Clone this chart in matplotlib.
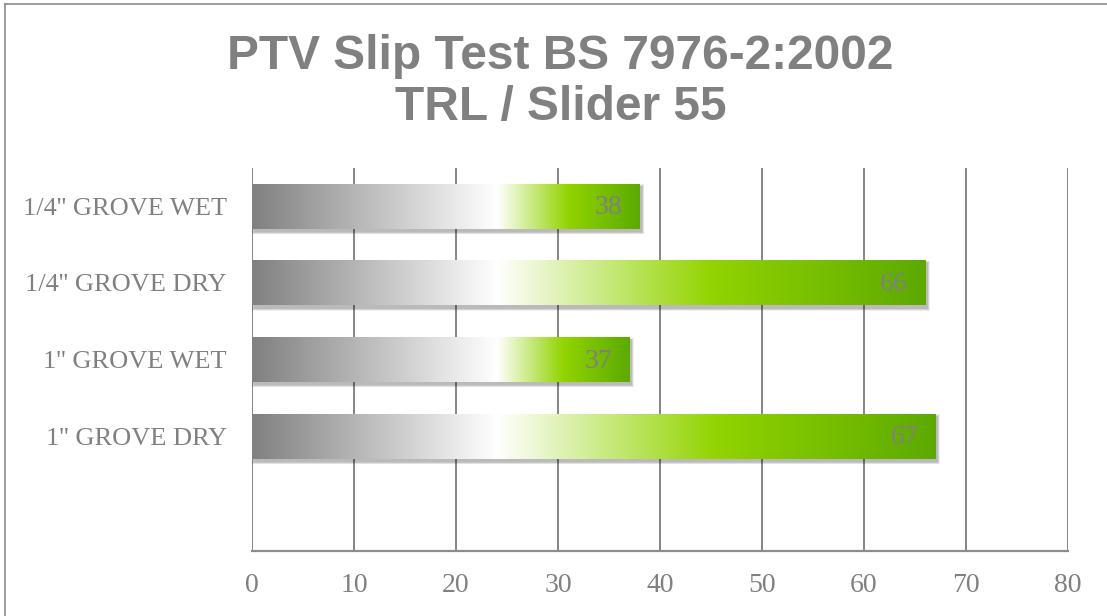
import numpy as np
import matplotlib.pyplot as plt
from matplotlib.patches import Rectangle
from matplotlib.lines import Line2D

# data
categories = ["1/4'' GROVE WET", "1/4'' GROVE DRY", "1'' GROVE WET", "1'' GROVE DRY"]
ptv_values = [38, 66, 37, 67]
x_ticks = [0, 10, 20, 30, 40, 50, 60, 70, 80]
title_line1 = 'PTV Slip Test BS 7976-2:2002'
title_line2 = 'TRL / Slider 55'

GRAY = '#808080'
W, H = 1107, 616


def bar_colors(length, n=600):
    """gray -> white -> light green -> dark green, like the office gradient fill"""
    x = np.linspace(0, length, n)
    white_at = 24
    green_at = (white_at + length) / 2
    stops = [0, white_at, green_at, length]
    cols = np.array([[128, 128, 128], [255, 255, 255], [146, 212, 0], [92, 170, 0]]) / 255
    rgb = np.stack([np.interp(x, stops, cols[:, c]) for c in range(3)], axis=-1)
    return rgb[np.newaxis, :, :]


fig = plt.figure(figsize=(W / 100, H / 100), dpi=100)
fig.patch.set_facecolor('white')

# outer chart border (cut off at right and bottom)
fig.add_artist(Line2D([5 / W, 5 / W], [0, 1 - 4 / H], color='#8c8c8c', lw=1.2))
fig.add_artist(Line2D([5 / W, 1], [1 - 4 / H, 1 - 4 / H], color='#8c8c8c', lw=1.2))

fig.text(560 / W, 1 - 69 / H, title_line1, ha='center', va='baseline',
         fontsize=34.5, fontweight='bold', color=GRAY, family='Liberation Sans')
fig.text(561 / W, 1 - 120 / H, title_line2, ha='center', va='baseline',
         fontsize=34.5, fontweight='bold', color=GRAY, family='Liberation Sans')

ax = fig.add_axes([252 / W, 65 / H, 816 / W, 383 / H])
ax.set_facecolor('white')

for t in x_ticks:
    ax.axvline(t, color='#858585', lw=1.4, zorder=1)

bar_h = 0.587
px_x = 80 / 816
px_y = 5 / 383
for i, v in enumerate(ptv_values):
    # soft shadow
    for k in range(1, 6):
        ax.add_patch(Rectangle((-k * px_x * 0.5 + 2 * px_x, i - bar_h / 2 + 3 * px_y - k * px_y * 0.5),
                               v + k * px_x, bar_h + k * px_y,
                               facecolor='black', edgecolor='none', alpha=0.06, zorder=2))
    ax.imshow(bar_colors(v), extent=(0, v, i + bar_h / 2, i - bar_h / 2),
              aspect='auto', interpolation='bilinear', zorder=3)
    ax.text(v - 1.7, i + 0.02, str(v), ha='right', va='center', color=GRAY,
            fontsize=20, family='Liberation Serif', zorder=4)

ax.set_xlim(0, 80)
ax.set_ylim(4.5, -0.5)
ax.set_xticks(x_ticks)
ax.set_xticklabels([str(t) for t in x_ticks], family='Liberation Serif', fontsize=20, color=GRAY)
ax.set_yticks(range(len(categories)))
ax.set_yticklabels(categories, family='Liberation Serif', fontsize=19, color=GRAY)
ax.tick_params(axis='x', length=0, pad=16)
ax.tick_params(axis='y', length=0, pad=18)

for side in ['top', 'right', 'left']:
    ax.spines[side].set_visible(False)
ax.spines['bottom'].set_color('#8c8c8c')
ax.spines['bottom'].set_linewidth(1.6)
ax.spines['bottom'].set_zorder(5)

fig.savefig('out.png', dpi=100)
